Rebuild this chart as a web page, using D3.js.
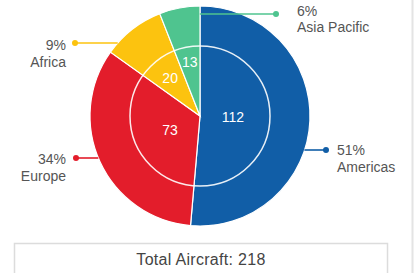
<!DOCTYPE html>
<html>
<head>
<meta charset="utf-8">
<script src="https://cdn.jsdelivr.net/npm/d3@7"></script>
<style>
  html, body { margin: 0; padding: 0; background: #fff; }
  svg { display: block; font-family: "Liberation Sans", Arial, sans-serif; }
</style>
</head>
<body>
<div id="chart"></div>
<script>
// data
const regions = ['Americas', 'Europe', 'Africa', 'Asia Pacific']
const aircraft = [112, 73, 20, 13]
const colors = ['#115ea7', '#e31d2b', '#fcc30f', '#4fc48f']

// where each callout ends up (layout only, not data)
const callouts = {
    'Americas':     { side: 'right', dotX: 326, y: 150, textX: 337, textDy: 5 },
    'Europe':       { side: 'left',  dotX: 76,  y: 158, textX: 66,  textDy: 6 },
    'Africa':       { side: 'left',  dotX: 75,  y: 43,  textX: 66,  textDy: 7 },
    'Asia Pacific': { side: 'right', dotX: 276, y: 14,  textX: 297, textDy: 1.5 },
}

const width = 414, height = 273
const cx = 200, cy = 116
const outerR = 110, innerR = 70

const total = d3.sum(aircraft)

// whole-number percentages that add up to 100 (largest remainder)
function roundedPercents(values) {
    const raw = values.map(v => v / total * 100)
    const out = raw.map(Math.floor)
    let left = 100 - d3.sum(out)
    d3.range(raw.length)
        .sort((a, b) => (raw[b] - out[b]) - (raw[a] - out[a]))
        .forEach(i => { if (left > 0) { out[i]++; left-- } })
    return out
}
const percents = roundedPercents(aircraft)

const rows = regions.map((name, i) => ({ name, value: aircraft[i], pct: percents[i], color: colors[i] }))

const svg = d3.select('#chart').append('svg')
    .attr('width', width)
    .attr('height', height)

const pie = d3.pie().sort(null).value(d => d.value)
const arcs = pie(rows)

const g = svg.append('g').attr('transform', `translate(${cx},${cy})`)

const outerArc = d3.arc().innerRadius(0).outerRadius(outerR)

g.selectAll('path.slice')
    .data(arcs)
    .enter()
    .append('path')
        .attr('class', 'slice')
        .attr('d', outerArc)
        .attr('fill', d => d.data.color)
        .attr('stroke', '#fff')
        .attr('stroke-width', 1.2)

// inner ring outline
g.append('circle')
    .attr('r', innerR)
    .attr('fill', 'none')
    .attr('stroke', '#fff')
    .attr('stroke-width', 1.5)
    .attr('opacity', 0.9)

// value labels inside the inner pie, pushed out for thin slices
function labelRadius(d) {
    const half = (d.endAngle - d.startAngle) / 2
    const w = String(d.data.value).length * 7.8
    const r = (w / 2 + 6) / Math.sin(half)
    return Math.min(innerR - 15, Math.max(innerR / 2 - 2, r))
}

g.selectAll('text.value')
    .data(arcs)
    .enter()
    .append('text')
        .attr('class', 'value')
        .attr('transform', d => {
            const r = labelRadius(d)
            const a = (d.startAngle + d.endAngle) / 2
            return `translate(${r * Math.sin(a)},${-r * Math.cos(a)})`
        })
        .attr('dy', '.35em')
        .attr('text-anchor', 'middle')
        .attr('fill', '#fff')
        .style('font-size', '14px')
        .text(d => d.data.value)

// callouts: horizontal connector from the slice to a dot, then the text
function sliceEdgeX(d, y, side) {
    // walk along the horizontal line and find the slice's nearest x on the label side
    const dy = y - cy
    const half = Math.sqrt(Math.max(0, outerR * outerR - dy * dy))
    let xs = []
    for (let x = -half; x <= half; x += 0.5) {
        let a = Math.atan2(x, -dy)
        if (a < 0) a += 2 * Math.PI
        if (a >= d.startAngle && a <= d.endAngle) xs.push(x)
    }
    if (!xs.length) return cx
    return cx + (side === 'right' ? d3.max(xs) : d3.min(xs))
}

const labels = svg.append('g').selectAll('g')
    .data(arcs)
    .enter()
    .append('g')

labels.append('line')
    .attr('x1', d => sliceEdgeX(d, callouts[d.data.name].y, callouts[d.data.name].side))
    .attr('x2', d => callouts[d.data.name].dotX)
    .attr('y1', d => callouts[d.data.name].y)
    .attr('y2', d => callouts[d.data.name].y)
    .attr('stroke', d => d.data.color)
    .attr('stroke-width', 1.6)

labels.append('circle')
    .attr('cx', d => callouts[d.data.name].dotX)
    .attr('cy', d => callouts[d.data.name].y)
    .attr('r', 3)
    .attr('fill', d => d.data.color)

const labelText = labels.append('text')
    .attr('text-anchor', d => callouts[d.data.name].side === 'right' ? 'start' : 'end')
    .attr('fill', '#555')
    .style('font-size', '14px')

labelText.append('tspan')
    .attr('x', d => callouts[d.data.name].textX)
    .attr('y', d => callouts[d.data.name].y + callouts[d.data.name].textDy)
    .text(d => d.data.pct + '%')

labelText.append('tspan')
    .attr('x', d => callouts[d.data.name].textX)
    .attr('y', d => callouts[d.data.name].y + callouts[d.data.name].textDy + 16.5)
    .text(d => d.data.name)

// total box
svg.append('rect')
    .attr('x', 14.5)
    .attr('y', 243.5)
    .attr('width', 373)
    .attr('height', 60)
    .attr('fill', '#fff')
    .attr('stroke', '#dcdcdc')
    .attr('stroke-width', 1.5)

svg.append('text')
    .attr('x', 201)
    .attr('y', 265)
    .attr('text-anchor', 'middle')
    .attr('fill', '#444')
    .style('font-size', '16px')
    .style('letter-spacing', '0.3px')
    .text(`Total Aircraft: ${total}`)

// right edge divider
svg.append('line')
    .attr('x1', 412.5).attr('x2', 412.5)
    .attr('y1', 0).attr('y2', height)
    .attr('stroke', '#e4e4e4')
    .attr('stroke-width', 2)
</script>
</body>
</html>
